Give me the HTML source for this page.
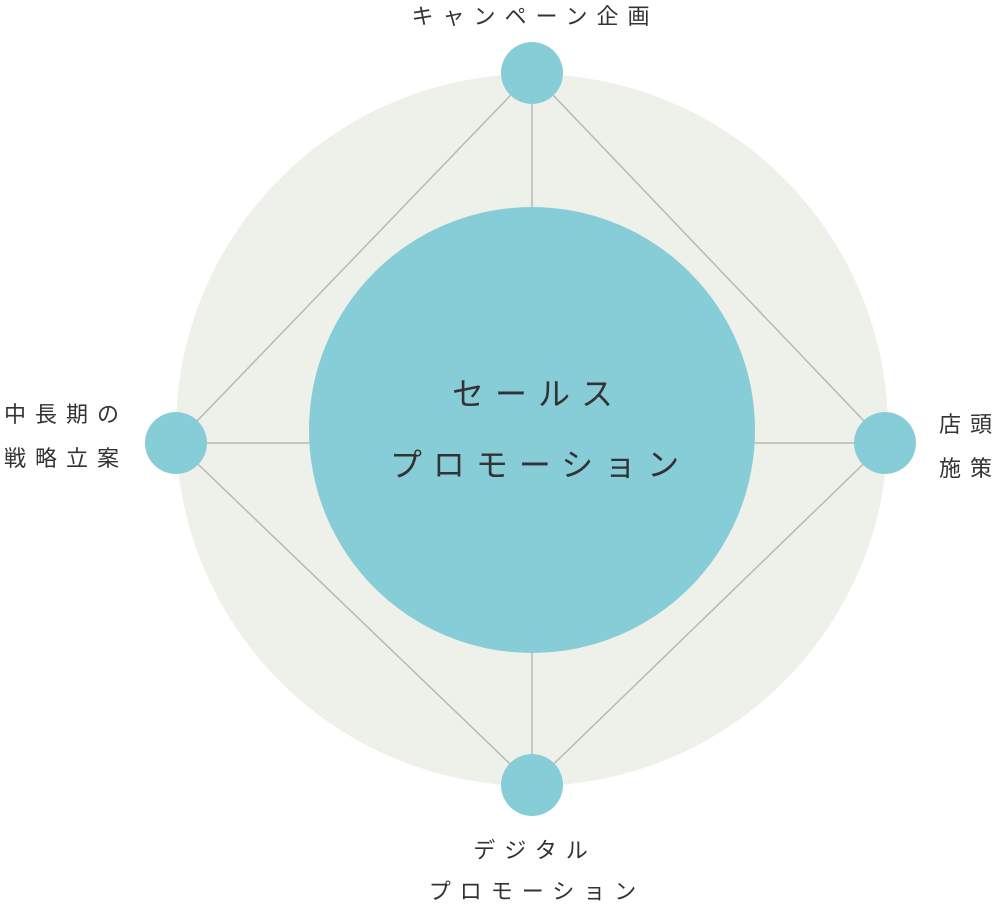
<!DOCTYPE html>
<html><head><meta charset="utf-8"><style>
html,body{margin:0;padding:0;background:#fff;}
body{width:1000px;height:913px;overflow:hidden;}
text{font-family:"Liberation Sans","Noto Sans CJK JP",sans-serif;fill:#333;}
</style></head><body>
<svg width="1000" height="913" viewBox="0 0 1000 913" xmlns="http://www.w3.org/2000/svg">
<circle cx="532" cy="430" r="356" fill="#eef0ea"/>
<g stroke="#b8b8b8" stroke-width="1.5" fill="none">
<line x1="532" y1="73" x2="532" y2="785"/>
<line x1="176" y1="443" x2="885" y2="443"/>
<polyline points="532,73 885,443 532,785 176,443 532,73"/>
</g>
<circle cx="532" cy="430" r="223" fill="#87cdd8"/>
<circle cx="532" cy="73" r="31" fill="#87cdd8"/>
<circle cx="176" cy="443" r="31" fill="#87cdd8"/>
<circle cx="885" cy="443" r="31" fill="#87cdd8"/>
<circle cx="532" cy="785" r="31" fill="#87cdd8"/>
<g font-size="32" text-anchor="middle" letter-spacing="11">
<text x="538" y="405">セールス</text>
<text x="540" y="476">プロモーション</text>
</g>
<g font-size="22" letter-spacing="9">
<text x="535" y="24" text-anchor="middle">キャンペーン企画</text>
<text x="4" y="422">中長期の</text>
<text x="4" y="466">戦略立案</text>
<text x="939" y="432">店頭</text>
<text x="939" y="476">施策</text>
<text x="535" y="858" text-anchor="middle">デジタル</text>
<text x="537" y="899" text-anchor="middle">プロモーション</text>
</g>
</svg>
</body></html>
